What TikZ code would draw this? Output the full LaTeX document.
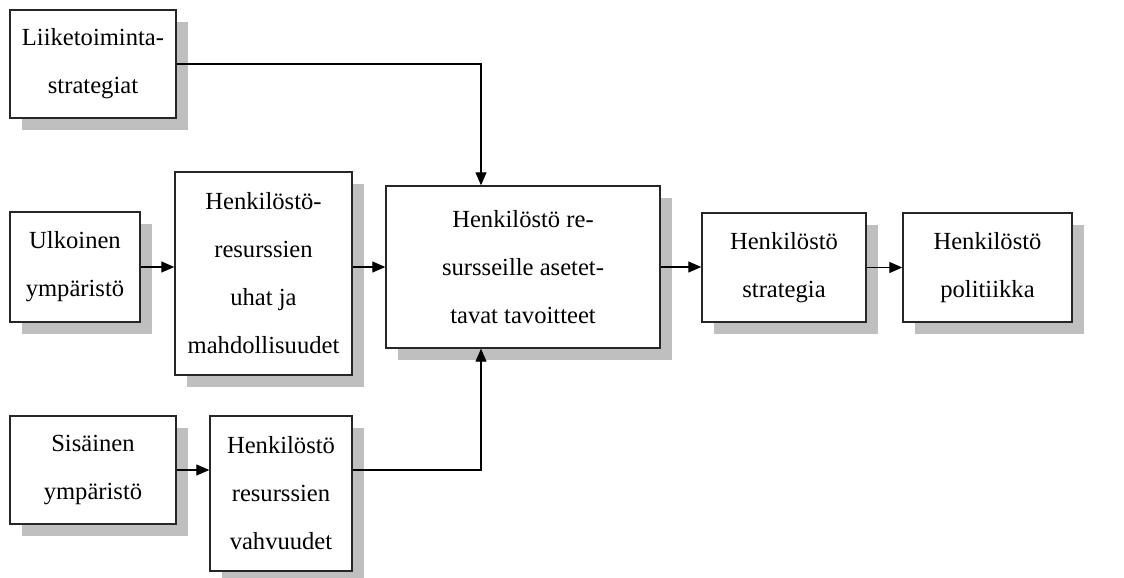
\documentclass[tikz,border=0pt]{standalone}
\usepackage{fontspec}
\setmainfont{Liberation Serif}
\usetikzlibrary{arrows.meta,shadows}

\begin{document}
\begin{tikzpicture}[x=0.5pt,y=-0.5pt,>={Triangle[length=6.5pt,width=5.5pt]},
  laatikko/.style={draw=black!85,line width=0.7pt,fill=white,align=center,
    font=\fontsize{12.3}{24}\selectfont,inner sep=0pt,
    drop shadow={shadow xshift=6pt,shadow yshift=-6pt,fill=black!25,opacity=1}}]
\useasboundingbox (0,0) rectangle (1124,578);
\node[laatikko,minimum width=83pt,minimum height=54pt] (liike) at (93,64) {Liiketoiminta-\\strategiat};
\node[laatikko,minimum width=65pt,minimum height=55pt] (ulk) at (75,267) {Ulkoinen\\ympäristö};
\node[laatikko,minimum width=88.5pt,minimum height=101.5pt] (uhat) at (263.5,273.5) {Henkilöstö-\\resurssien\\uhat ja\\mahdollisuudet};
\node[laatikko,minimum width=137pt,minimum height=81pt] (tav) at (523,267) {Henkilöstö re-\\sursseille asetet-\\tavat tavoitteet};
\node[laatikko,minimum width=82pt,minimum height=54.5pt] (strat) at (784,267.5) {Henkilöstö\\strategia};
\node[laatikko,minimum width=84.5pt,minimum height=54.5pt] (pol) at (987.5,267.5) {Henkilöstö\\politiikka};
\node[laatikko,minimum width=83pt,minimum height=54pt] (sis) at (93,470) {Sisäinen\\ympäristö};
\node[laatikko,minimum width=71pt,minimum height=77.5pt] (vahv) at (281,493.5) {Henkilöstö\\resurssien\\vahvuudet};
% nuolet
\draw[->,line width=0.6pt] (liike.east) -| ([xshift=-21pt]tav.north);
\draw[->,line width=0.6pt] (vahv.east |- sis.east) -| ([xshift=-21pt]tav.south);
\draw[->,line width=0.6pt] (ulk.east) -- (ulk.east -| uhat.west);
\draw[->,line width=0.6pt] (uhat.east |- tav.west) -- (tav.west);
\draw[->,line width=0.6pt] (tav.east) -- (tav.east -| strat.west);
\draw[->,line width=0.6pt] (strat.east) -- (pol.west);
\draw[->,line width=0.6pt] (sis.east) -- (sis.east -| vahv.west);
\end{tikzpicture}
\end{document}
